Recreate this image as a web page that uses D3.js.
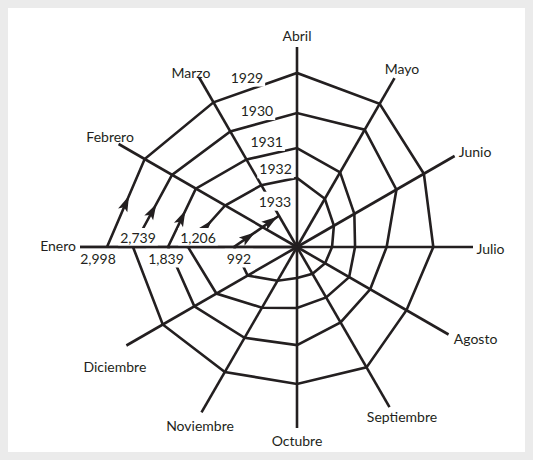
<!DOCTYPE html>
<html>
<head>
<meta charset="utf-8">
<script src="https://cdn.jsdelivr.net/npm/d3@7"></script>
<style>
  html, body { margin: 0; padding: 0; background: #ebebeb; }
  svg { display: block; }
  text { font-family: Lato, "Noto Sans", sans-serif; font-size: 14px; fill: #231f20; }
</style>
</head>
<body>
<svg id="chart" width="533" height="460"></svg>
<script>
// ---- data: monthly world imports, 1929–1933 ----
const months = ["Enero", "Febrero", "Marzo", "Abril", "Mayo", "Junio",
                "Julio", "Agosto", "Septiembre", "Octubre", "Noviembre", "Diciembre"];
const years = [1929, 1930, 1931, 1932, 1933];

const imports1929 = [2998, 2857, 2769, 2839, 2752, 2289, 2027, 1757, 2096, 2045, 2232, 2508];
const imports1930 = [2739, 2232, 1952, 1968, 2004, 1390, 1116, 1092, 1104, 1155, 1187, 1507];
const imports1931 = [1839, 1453, 1169, 1159, 1100, 1007, 969, 979, 970, 983, 1025, 1132];
const imports1932 = [1206, 1085, 1031, 1020, 958, 897, 862, 850, 843, 843, 880, 964];
const imports1933 = [992, 884, 867];

const januaryValues = [2998, 2739, 1839, 1206, 992];
const januaryLabels = ["2,998", "2,739", "1,839", "1,206", "992"];

// ---- layout ----
const W = 533, H = 460;
const cx = 297, cy = 247;
const ringRadii = [63, 109, 129, 164, 190];          // radius of each January value, ascending
const spokeLen = [217, 206, 196, 200, 195, 182, 176, 175, 185, 181, 191, 197];
// [dx, dy, anchor] from the outer end of each spoke
const monthLabelOffset = [[-4, -2, "end"], [-8.5, -8, "middle"], [-8, -5, "middle"], [0, -12, "middle"],
                          [7.5, -10, "middle"], [20.5, -5, "middle"], [17.5, 1, "middle"], [27, 3.5, "middle"],
                          [12.5, 9.5, "middle"], [0, 12, "middle"], [-1.5, 13.5, "middle"], [-11.5, 20.5, "middle"]];
const janLabelDx = [-9, 5, -2, 10, 5];
const janLabelAbove = [false, true, false, true, false];
const ink = "#231f20";

const svg = d3.select("#chart");
svg.append("rect").attr("x", 0).attr("y", 0).attr("width", W).attr("height", H).attr("fill", "#ebebeb");
svg.append("rect").attr("x", 8).attr("y", 8).attr("width", W - 16).attr("height", H - 16).attr("fill", "#ffffff");

// radial scale: value -> distance from centre, anchored on the January readings
const r = d3.scaleLinear()
  .domain(januaryValues.slice().sort(d3.ascending))
  .range(ringRadii);

// month angle: Enero on the left, moving clockwise
const angle = d3.scaleLinear().domain([0, 12]).range([Math.PI, -Math.PI]);
const polar = (i, rad) => [cx + rad * Math.cos(angle(i)), cy - rad * Math.sin(angle(i))];

const g = svg.append("g");

// spokes
const spokes = g.append("g").attr("stroke", ink).attr("stroke-width", 2.6).attr("stroke-linecap", "butt");
months.forEach((m, i) => {
  const [x, y] = polar(i, spokeLen[i]);
  spokes.append("line").attr("x1", cx).attr("y1", cy).attr("x2", x).attr("y2", y);
});

// month labels
months.forEach((m, i) => {
  const [x, y] = polar(i, spokeLen[i]);
  const [dx, dy, anchor] = monthLabelOffset[i];
  g.append("text")
    .attr("x", x + dx)
    .attr("y", y + dy)
    .attr("text-anchor", anchor)
    .attr("dominant-baseline", "central")
    .text(m);
});

// spiral of monthly values, one continuous path
const series = [imports1929, imports1930, imports1931, imports1932, imports1933];
const pts = [];
series.forEach((vals, yi) => vals.forEach((v, mi) => pts.push({ year: years[yi], month: mi, value: v })));
const xy = d => polar(d.month, r(d.value));

g.append("path")
  .datum(pts)
  .attr("fill", "none")
  .attr("stroke", ink)
  .attr("stroke-width", 2.6)
  .attr("stroke-linejoin", "miter")
  .attr("d", d3.line().x(d => xy(d)[0]).y(d => xy(d)[1]));

// arrowheads along the January → February legs (and February → March in 1933)
const arrowSegs = [];
pts.forEach((d, k) => {
  if (d.month === 0 && pts[k + 1]) arrowSegs.push([pts[k], pts[k + 1]]);
  if (d.year === 1933 && d.month === 1 && pts[k + 1]) arrowSegs.push([pts[k], pts[k + 1]]);
});
g.append("g").selectAll("path").data(arrowSegs).join("path")
  .attr("fill", ink)
  .attr("d", "M8,0 L-8,-5 L-4.5,0 L-8,5 Z")
  .attr("transform", ([a, b]) => {
    const [x1, y1] = xy(a), [x2, y2] = xy(b);
    const ang = Math.atan2(y2 - y1, x2 - x1) * 180 / Math.PI;
    return `translate(${(x1 + x2) / 2},${(y1 + y2) / 2}) rotate(${ang})`;
  });

// labels with a white knockout behind them
function knockLabel(x, y, txt, anchor) {
  const grp = g.append("g");
  const bg = grp.append("rect").attr("fill", "#ffffff");
  const t = grp.append("text").attr("x", x).attr("y", y).attr("text-anchor", anchor || "middle").text(txt);
  const bb = t.node().getBBox();
  bg.attr("x", bb.x - 2).attr("y", bb.y - 1).attr("width", bb.width + 4).attr("height", bb.height + 2);
}

// year labels, placed above the March → April stretch of each turn
years.forEach(yr => {
  const turn = pts.filter(d => d.year === yr);
  let x, y;
  if (turn.length > 3) {
    const [x1, y1] = xy(turn[2]), [x2, y2] = xy(turn[3]);
    x = x1 + (x2 - x1) * 0.4; y = y1 + (y2 - y1) * 0.4 - 13;
  } else {
    const [xl, yl] = xy(turn[turn.length - 1]);
    x = xl - 4; y = yl - 14;
  }
  knockLabel(x, y + 5, String(yr));
});

// January value labels, alternating below / above the Enero spoke
januaryValues.forEach((v, k) => {
  const [x] = polar(0, r(v));
  const y = janLabelAbove[k] ? cy - 4 : cy + 16.5;
  knockLabel(x + janLabelDx[k], y, januaryLabels[k]);
});

// Enero spoke drawn again on top of the knockouts
const [ex, ey] = polar(0, spokeLen[0]);
g.append("line").attr("x1", cx).attr("y1", cy).attr("x2", ex).attr("y2", ey)
  .attr("stroke", ink).attr("stroke-width", 2.6);
</script>
</body>
</html>
